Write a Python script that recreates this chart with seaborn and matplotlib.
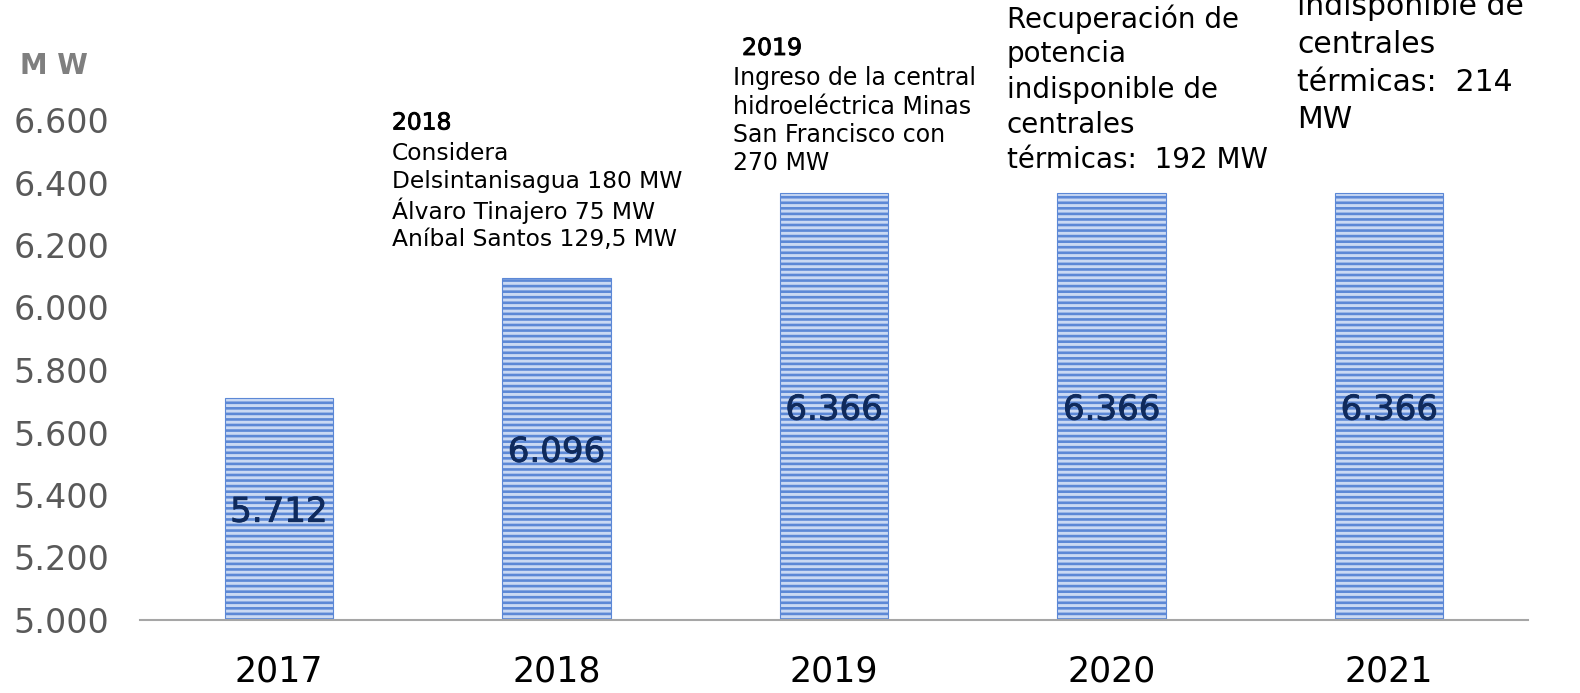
import matplotlib
matplotlib.use("Agg")
import matplotlib.pyplot as plt
import matplotlib.patheffects as pe
import seaborn as sns
import pandas as pd

# -- data
years = ["2017", "2018", "2019", "2020", "2021"]
capacity = [5712, 6096, 6366, 6366, 6366]
labels = ["5.712", "6.096", "6.366", "6.366", "6.366"]
yticks = [5000, 5200, 5400, 5600, 5800, 6000, 6200, 6400, 6600]
ytick_labels = ["5.000", "5.200", "5.400", "5.600", "5.800", "6.000", "6.200", "6.400", "6.600"]

notes_2018 = ["Considera", "Delsintanisagua 180 MW", "Álvaro Tinajero 75 MW", "Aníbal Santos 129,5 MW"]
notes_2019 = ["Ingreso de la central", "hidroeléctrica Minas", "San Francisco con", "270 MW"]
notes_2020 = ["Recuperación de", "potencia", "indisponible de", "centrales", "térmicas:  192 MW"]
notes_2021 = ["Recuperación de", "potencia", "indisponible de", "centrales", "térmicas:  214", "MW"]

df = pd.DataFrame({"year": years, "mw": capacity})

sns.set_style("white")
plt.rcParams["font.family"] = ["DejaVu Sans"]
plt.rcParams["hatch.linewidth"] = 1.9

fig = plt.figure(figsize=(15.8, 6.93), dpi=100)
W, H = 1580, 693
ax = fig.add_axes([140 / W, 1 - 620 / H, 1388 / W, 500 / H])

sns.barplot(data=df, x="year", y="mw", ax=ax, color="#cad9f3", width=0.39,
            saturation=1, edgecolor="#5c88d6", linewidth=0.8)
for p in ax.patches:
    p.set_hatch("---")

ax.set_ylim(5000, 6600)
ax.set_xlim(-0.5, 4.5)
ax.set_yticks(yticks)
ax.set_yticklabels(ytick_labels, fontsize=24, color="#595959")
ax.tick_params(axis="x", labelsize=25, colors="black", length=0, pad=25)
ax.tick_params(axis="y", length=0, pad=22)
ax.set_xlabel("")
ax.set_ylabel("")
for s in ["top", "right", "left"]:
    ax.spines[s].set_visible(False)
ax.spines["bottom"].set_color("#a6a6a6")
ax.spines["bottom"].set_linewidth(1.5)

# value labels inside bars
for i, (v, t) in enumerate(zip(capacity, labels)):
    ax.text(i, (5000 + v) / 2, t, ha="center", va="center_baseline",
            fontsize=24.5, color="#0f2a5c",
            path_effects=[pe.withStroke(linewidth=0.6, foreground="#0f2a5c")])

fig.text(20 / W, 1 - 66 / H, "M W", fontsize=20, color="#7f7f7f",
         fontweight="bold", va="center", ha="left")


def block(x, y, lines, size, step, head=None, head_dx=0, head_step=None):
    yy = y
    if head is not None:
        fig.text((x + head_dx) / W, 1 - yy / H, head, fontsize=size,
                 va="center", ha="left", color="black",
                 path_effects=[pe.withStroke(linewidth=0.6, foreground="black")])
        yy += head_step if head_step else step
    for ln in lines:
        fig.text(x / W, 1 - yy / H, ln, fontsize=size, va="center",
                 ha="left", color="black")
        yy += step


block(392, 123, notes_2018, 16.8, 28.7, head="2018", head_step=30)
block(733, 48, notes_2019, 17, 28.5, head="2019", head_dx=9, head_step=30)
block(1007, 19, notes_2020, 20, 35.3)
block(1297, 120 - 37.8 * 5, notes_2021, 21.5, 37.8)

fig.savefig("out.png", dpi=100)
